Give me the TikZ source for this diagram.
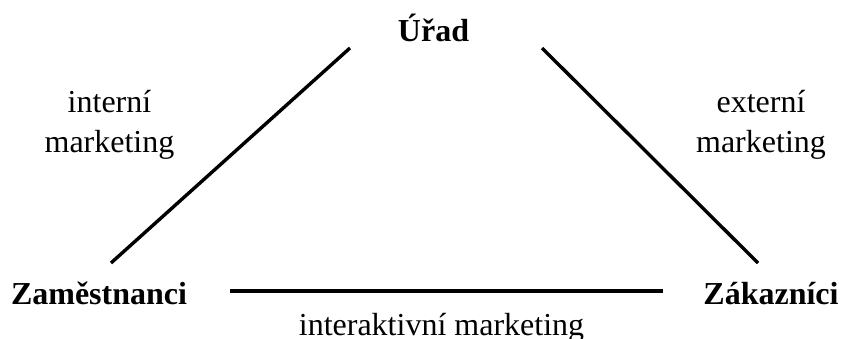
\documentclass[tikz,border=0pt]{standalone}
\usepackage{fontspec}
\setmainfont{Liberation Serif}
\begin{document}
\begin{tikzpicture}[x=1pt,y=1pt,
  party/.style={font=\fontsize{16}{19}\selectfont\bfseries, inner sep=0pt, anchor=base},
  relation/.style={font=\fontsize{16}{19}\selectfont, inner sep=0pt, anchor=base, align=center},
  edge/.style={line width=1.7pt},
  baseedge/.style={line width=2pt}]
  \useasboundingbox (0,0) rectangle (420.5,169);
  % the three parties
  \node[party] (urad) at (216.75,148) {Úřad};
  \node[party] (zam) at (49.5,17) {Zaměstnanci};
  \node[party] (zak) at (385.5,17) {Zákazníci};
  % kinds of marketing between them (anchored at the last line's baseline)
  \node[relation] (intern) at (54.75,92.5) {interní\\[1.2pt]marketing};
  \node[relation] (extern) at (380.5,92.5) {externí\\[1.2pt]marketing};
  \node[relation] (interakt) at (220.75,1.5) {interaktivní marketing};
  % line ends
  \coordinate (lt) at (175,145);
  \coordinate (lb) at (55.5,37.5);
  \coordinate (rt) at (271,145);
  \coordinate (rb) at (379,37.5);
  \coordinate (hl) at (115,23.5);
  \coordinate (hr) at (331.5,23.5);
  \draw[edge] (lt) -- (lb);
  \draw[edge] (rt) -- (rb);
  \draw[baseedge] (hl) -- (hr);
\end{tikzpicture}
\end{document}
